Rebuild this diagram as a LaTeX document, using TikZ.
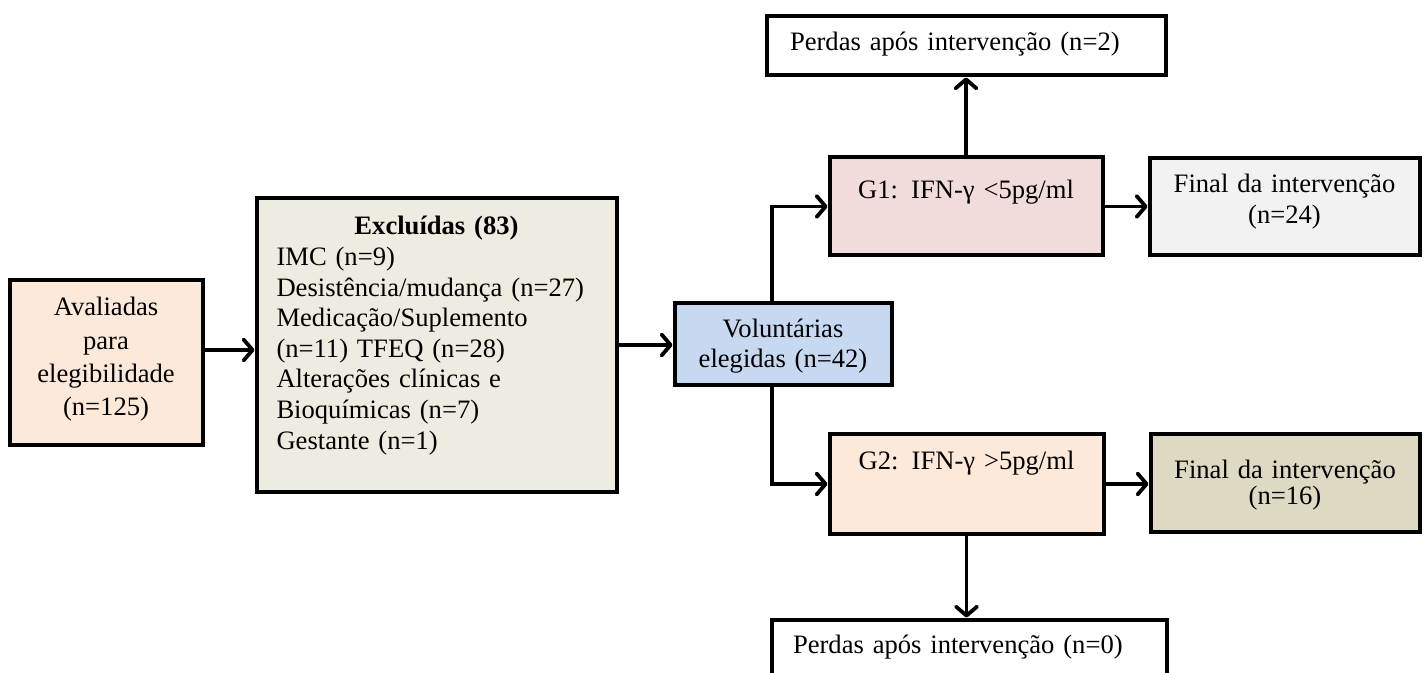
\documentclass[tikz,border=0pt]{standalone}
\usepackage{fontspec}
\setmainfont{Liberation Serif}
\usetikzlibrary{shapes.geometric, arrows.meta}
\definecolor{avalfill}{HTML}{FDE9D9}
\definecolor{exclfill}{HTML}{EEECE1}
\definecolor{volfill}{HTML}{C6D9F1}
\definecolor{gumfill}{HTML}{F2DCDB}
\definecolor{fimumfill}{HTML}{F2F2F2}
\definecolor{gdoisfill}{HTML}{FDE9D9}
\definecolor{fimdoisfill}{HTML}{DDD9C3}
\tikzstyle{caixa} = [rectangle, draw=black, line width=2pt, inner sep=0pt, minimum height=0pt, font=\fontsize{13.3}{15.3}\selectfont]
\tikzstyle{arrow} = [line width=1.9pt, -{Straight Barb[length=4.5pt, width=10.5pt, line cap=round, line join=round]}]

\begin{document}
\begin{tikzpicture}[x=0.5pt, y=-0.5pt]
	\useasboundingbox (0,0) rectangle (1424,673);

	\node (aval) [caixa, fill=avalfill, minimum width=96.5pt, text width=90pt, align=center, text height=17.75pt, text depth=64.75pt, font=\fontsize{13.3}{16.6}\selectfont] at (106,363) {Avaliadas\\ para\\ elegibilidade\\ (n=125)};
	\node (excl) [caixa, fill=exclfill, minimum width=180pt, text width=160pt, align=left, text height=18.25pt, text depth=128.25pt] at (436.5,345) {\hfill\textbf{Excluídas (83)}\hfill\null\\ IMC (n=9)\\ Desistência/mudança (n=27)\\ Medicação/Suplemento\\ (n=11) TFEQ (n=28)\\ Alterações clínicas e\\ Bioquímicas (n=7)\\ Gestante (n=1)};
	\node (vol) [caixa, fill=volfill, minimum width=108.5pt, text width=100pt, align=center, text height=17.25pt, text depth=23.75pt, font=\fontsize{13.3}{15}\selectfont] at (783,344.5) {Voluntárias\\ elegidas (n=42)};
	\node (g1) [caixa, fill=gumfill, minimum width=136.5pt, text width=130pt, align=center, text height=20.75pt, text depth=28.25pt] at (966,206.5) {G1: IFN-γ <5pg/ml};
	\node (fim1) [caixa, fill=fimumfill, minimum width=135pt, text width=130pt, align=center, text height=17.25pt, text depth=31.25pt, font=\fontsize{13.3}{15.5}\selectfont] at (1284.5,207) {Final da intervenção\\ (n=24)};
	\node (g2) [caixa, fill=gdoisfill, minimum width=137pt, text width=130pt, align=center, text height=17.25pt, text depth=32.25pt] at (966.5,484) {G2: IFN-γ >5pg/ml};
	\node (fim2) [caixa, fill=fimdoisfill, minimum width=134.5pt, text width=130pt, align=center, text height=22.25pt, text depth=26.25pt, font=\fontsize{13.3}{13}\selectfont] at (1285,483) {Final da intervenção\\ (n=16)};
	\node (perda1) [caixa, fill=white, minimum width=199.5pt, text width=176pt, align=left, text height=17.25pt, text depth=12.25pt] at (966,46) {Perdas após intervenção (n=2)};
	\node (perda2) [caixa, fill=white, minimum width=197.5pt, text width=176pt, align=left, text height=16.75pt, text depth=18.5pt] at (969,654.75) {Perdas após intervenção (n=0)};

	\coordinate (a1) at ([yshift=6.5pt]aval.east);
	\draw [arrow] (a1) -- (a1 -| excl.west);
	\draw [arrow] (excl.east) -- (excl.east -| vol.west);
	\draw [arrow] ([xshift=-5.5pt]vol.north) |- (g1.west);
	\draw [arrow] ([xshift=-5.5pt]vol.south) |- (g2.west);
	\draw [arrow] (g1.east) -- (g1.east -| fim1.west);
	\draw [arrow] (g2.east) -- (g2.east -| fim2.west);
	\draw [arrow] (g1.north) -- (perda1.south);
	\draw [arrow] (g2.south) -- (g2.south |- perda2.north);
\end{tikzpicture}
\end{document}
